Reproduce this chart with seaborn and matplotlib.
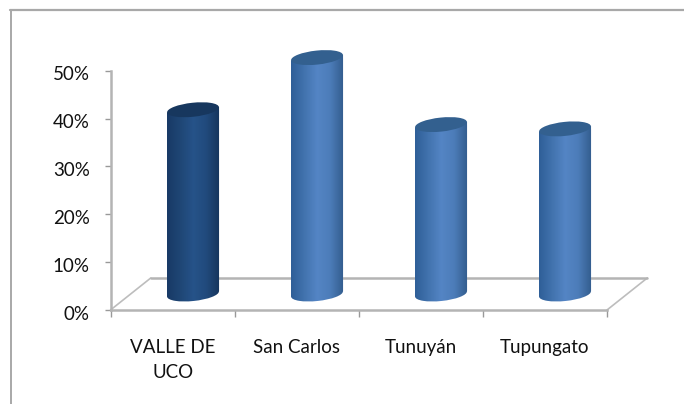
import matplotlib
matplotlib.use("Agg")
import matplotlib.pyplot as plt
import numpy as np
import seaborn as sns
from matplotlib.colors import LinearSegmentedColormap
from matplotlib.lines import Line2D
from matplotlib.patches import Ellipse, Polygon
from matplotlib.transforms import ScaledTranslation

categories = ["VALLE DE\nUCO", "San Carlos", "Tunuyán", "Tupungato"]
values = [38.5, 49.4, 35.4, 34.5]
y_ticks = [0, 10, 20, 30, 40, 50]

W, H = 684, 404
GREY = "#b4b4b4"

sns.set_theme(style="white")
plt.rcParams["font.family"] = ["Lato", "DejaVu Sans"]

fig = plt.figure(figsize=(W / 100, H / 100), dpi=100)


def box(x0, x1, y_top, y_bot):
    return [x0 / W, 1 - y_bot / H, (x1 - x0) / W, (y_bot - y_top) / H]


# frente del grafico
ax = fig.add_axes(box(110.5, 607, 70.7, 310))
ax.set_xlim(-0.5, 3.5)
ax.set_ylim(0, 50)
sns.despine(ax=ax)
for s in ["left", "bottom"]:
    ax.spines[s].set_color(GREY)
    ax.spines[s].set_linewidth(1.8)
ax.set_yticks(y_ticks)
ax.set_yticklabels([f"{v}%" for v in y_ticks], fontsize=13.5, color="#111111")
ax.set_xticks(np.arange(-0.5, 4, 1))
ax.set_xticklabels([])
ax.set_xticks(range(4), categories, minor=True, fontsize=13.5, color="#111111", linespacing=1.54)
ax.tick_params(axis="y", length=4, width=1, color="#999999", pad=11, left=True)
ax.tick_params(axis="x", which="major", length=5, width=1, color="#999999", bottom=True)
ax.tick_params(axis="x", which="minor", length=0, pad=21)
shift = ScaledTranslation(0, -2 / 72, fig.dpi_scale_trans)
for lab in ax.get_yticklabels():
    lab.set_transform(lab.get_transform() + shift)

# piso en perspectiva
dx, dy = 0.325, 6.7
ax.plot([-0.5, -0.5 + dx], [0, dy], color="#bdbdbd", lw=1.2, clip_on=False)
ax.plot([3.5, 3.5 + dx], [0, dy], color="#bdbdbd", lw=1.2, clip_on=False)
ax.plot([-0.5 + dx, 3.5 + dx], [dy, dy], color=GREY, lw=1.8, clip_on=False)

# borde del recuadro
fig.add_artist(Line2D([10.5 / W, 10.5 / W], [0, 1 - 10 / H], color="#a8a8a8", lw=1.4))
fig.add_artist(Line2D([10 / W, 1], [1 - 10 / H, 1 - 10 / H], color="#a8a8a8", lw=1.6))

# cilindros
ax2 = fig.add_axes(box(131, 627, 54.7, 294))
ax2.patch.set_alpha(0)
bar_colors = ["#234f85", "#4f81bd", "#4f81bd", "#4f81bd"]
sns.barplot(x=categories, y=values, hue=categories, palette=bar_colors, width=0.42,
            legend=False, saturation=1, ax=ax2)
ax2.set_xlim(-0.5, 3.5)
ax2.set_ylim(0, 50)
ax2.axis("off")

light = LinearSegmentedColormap.from_list("l", ["#2f5f98", "#4273ae", "#5485c5", "#4c7cb8", "#335d8e"])
dark = LinearSegmentedColormap.from_list("d", ["#183a66", "#1f4675", "#265389", "#214a7c", "#16355c"])
grad = np.linspace(0, 1, 64).reshape(1, -1)
tilt = 2.8

fig.canvas.draw()
for i, p in enumerate(ax2.patches):
    x0, y0 = ax2.transData.transform((p.get_x(), 0))
    x1, y1 = ax2.transData.transform((p.get_x() + p.get_width(), p.get_height()))
    cx = (x0 + x1) / 2
    w = x1 - x0
    cmap = dark if i == 0 else light
    body = Polygon([(x0, y0 - tilt), (x1, y0 + tilt), (x1, y1 + tilt), (x0, y1 - tilt)],
                   closed=True, transform=None)
    bottom = Ellipse((cx, y0), w, 14, angle=6, transform=None)
    top = Ellipse((cx, y1), w, 14, angle=6, transform=None,
                  facecolor="#17375e" if i == 0 else "#33608f", edgecolor="none", zorder=6)
    p.set_clip_path(body)
    ext = (p.get_x(), p.get_x() + p.get_width(), 0 - 3, p.get_height() + 3)
    for clip in (body, bottom):
        im = ax2.imshow(grad, cmap=cmap, extent=ext, aspect="auto", zorder=5)
        clip.set_figure(fig)
        im.set_clip_box(fig.bbox)
        im.set_clip_path(clip)
    ax2.add_artist(top)
    top.set_clip_on(False)
ax2.set_xlim(-0.5, 3.5)
ax2.set_ylim(0, 50)

fig.savefig("out.png", dpi=100)
